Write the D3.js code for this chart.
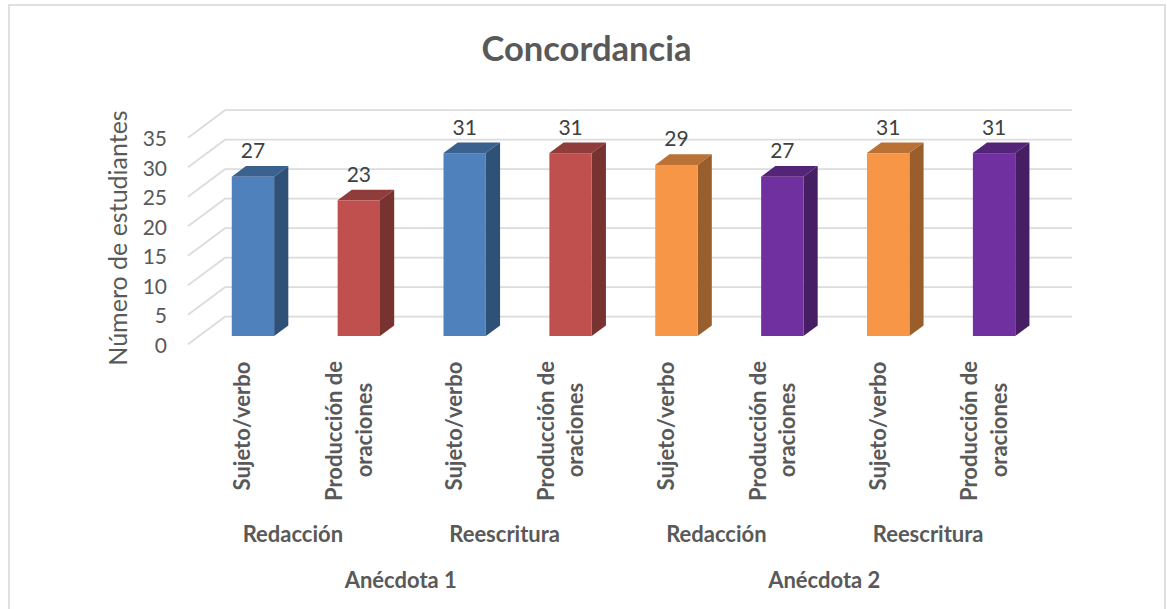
<!DOCTYPE html>
<html><head><meta charset="utf-8">
<script src="https://cdn.jsdelivr.net/npm/d3@7"></script>
<style>html,body{margin:0;padding:0;background:#fff}svg{display:block}text{font-family:Lato,"Open Sans",sans-serif}</style>
</head><body><svg id="c" width="1167" height="609"></svg>
<script>
const ids=["a","b","c","d","e","f","g","h"];
const tasks=[["Sujeto/verbo"],["Producción de","oraciones"],["Sujeto/verbo"],["Producción de","oraciones"],["Sujeto/verbo"],["Producción de","oraciones"],["Sujeto/verbo"],["Producción de","oraciones"]];
const values=[27,23,31,31,29,27,31,31];
const frontColors=["#4f81bd","#c0504d","#4f81bd","#c0504d","#f79646","#7030a0","#f79646","#7030a0"];
const topColors=["#3b618e","#903c3a","#3b618e","#903c3a","#b97135","#542478","#b97135","#542478"];
const sideColors=["#2f5077","#783230","#2f5077","#783230","#9a5e2c","#461e64","#9a5e2c","#461e64"];
const yTicks=[0,5,10,15,20,25,30,35];
const subgroups=[{label:"Redacción",from:0,to:1},{label:"Reescritura",from:2,to:3},{label:"Redacción",from:4,to:5},{label:"Reescritura",from:6,to:7}];
const groups=[{label:"Anécdota 1",from:0,to:3},{label:"Anécdota 2",from:4,to:7}];

const svg=d3.select("#c");
const frontX0=188,frontX1=1035,frontY0=344.3,unit=5.9;
const depthX=37,depthY=27.6;
const x=d3.scaleBand().domain(ids).range([frontX0,frontX1]).paddingInner(.6).paddingOuter(.3);
const y=d3.scaleLinear().domain([0,35]).range([frontY0,frontY0-35*unit]);
const barDX=12,barDY=8.3,sideDX=14.2,sideDY=10.6;

svg.append("rect").attr("x",9).attr("y",5).attr("width",1156).attr("height",640).attr("fill","#fff").attr("stroke","#e0e0e0").attr("stroke-width",2);

const grid=svg.append("g");
yTicks.forEach(t=>{
  grid.append("path").attr("d",`M${frontX0},${y(t)}L${frontX0+depthX},${y(t)-depthY}L${frontX1+depthX},${y(t)-depthY}`)
    .attr("fill","none").attr("stroke","#dcdcdc").attr("stroke-width",1.8);
});
const axis=d3.axisLeft(y).tickValues(yTicks).tickSize(0).tickPadding(21);
const ag=svg.append("g").attr("transform",`translate(${frontX0},1)`).call(axis);
ag.select(".domain").remove();
ag.selectAll("text").attr("font-size",21).attr("fill","#595959").attr("font-family","Lato");

svg.append("text").attr("transform","translate(127,238) rotate(-90)").attr("text-anchor","middle").attr("font-size",25).attr("fill","#595959").text("Número de estudiantes");
svg.append("text").attr("x",586.5).attr("y",61).attr("text-anchor","middle").attr("font-size",34.6).attr("font-weight",700).attr("fill","#595959").text("Concordancia");

const bars=svg.append("g").selectAll("g").data(ids).join("g");
bars.each(function(id,i){
  const g=d3.select(this),l=x(id)+barDX,w=x.bandwidth(),b=y(0)-barDY,t=y(values[i])-barDY;
  g.append("path").attr("d",`M${l},${t}L${l+sideDX},${t-sideDY}L${l+w+sideDX},${t-sideDY}L${l+w},${t}Z`).attr("fill",topColors[i]);
  g.append("path").attr("d",`M${l+w},${t}L${l+w+sideDX},${t-sideDY}L${l+w+sideDX},${b-sideDY}L${l+w},${b}Z`).attr("fill",sideColors[i]);
  g.append("rect").attr("x",l).attr("y",t).attr("width",w).attr("height",b-t).attr("fill",frontColors[i]);
  g.append("text").attr("x",l+w/2).attr("y",t-18.5).attr("text-anchor","middle").attr("font-size",21).attr("fill","#404040").text(values[i]);
});

const bold={"font-size":22,"font-weight":700,"fill":"#595959"};
const apply=(s,o)=>{for(const k in o)s.attr(k,o[k]);return s;};
tasks.forEach((lines,i)=>{
  const l=x(ids[i]);
  lines.forEach((w,j)=>{
    const bx=lines.length===1?l+30.5:l+(j?46:16.5);
    const cy=lines.length===1?426:(j?430:431);
    apply(svg.append("text"),bold).attr("transform",`translate(${bx},${cy}) rotate(-90)`).attr("text-anchor","middle").text(w);
  });
});
const mid=(a,b)=>(x(ids[a])+x(ids[b])+x.bandwidth())/2+barDX;
subgroups.forEach(s=>apply(svg.append("text"),bold).attr("x",mid(s.from,s.to)-13).attr("y",542).attr("text-anchor","middle").text(s.label));
groups.forEach(s=>apply(svg.append("text"),bold).attr("x",mid(s.from,s.to)-11).attr("y",588).attr("text-anchor","middle").text(s.label));
</script></body></html>
